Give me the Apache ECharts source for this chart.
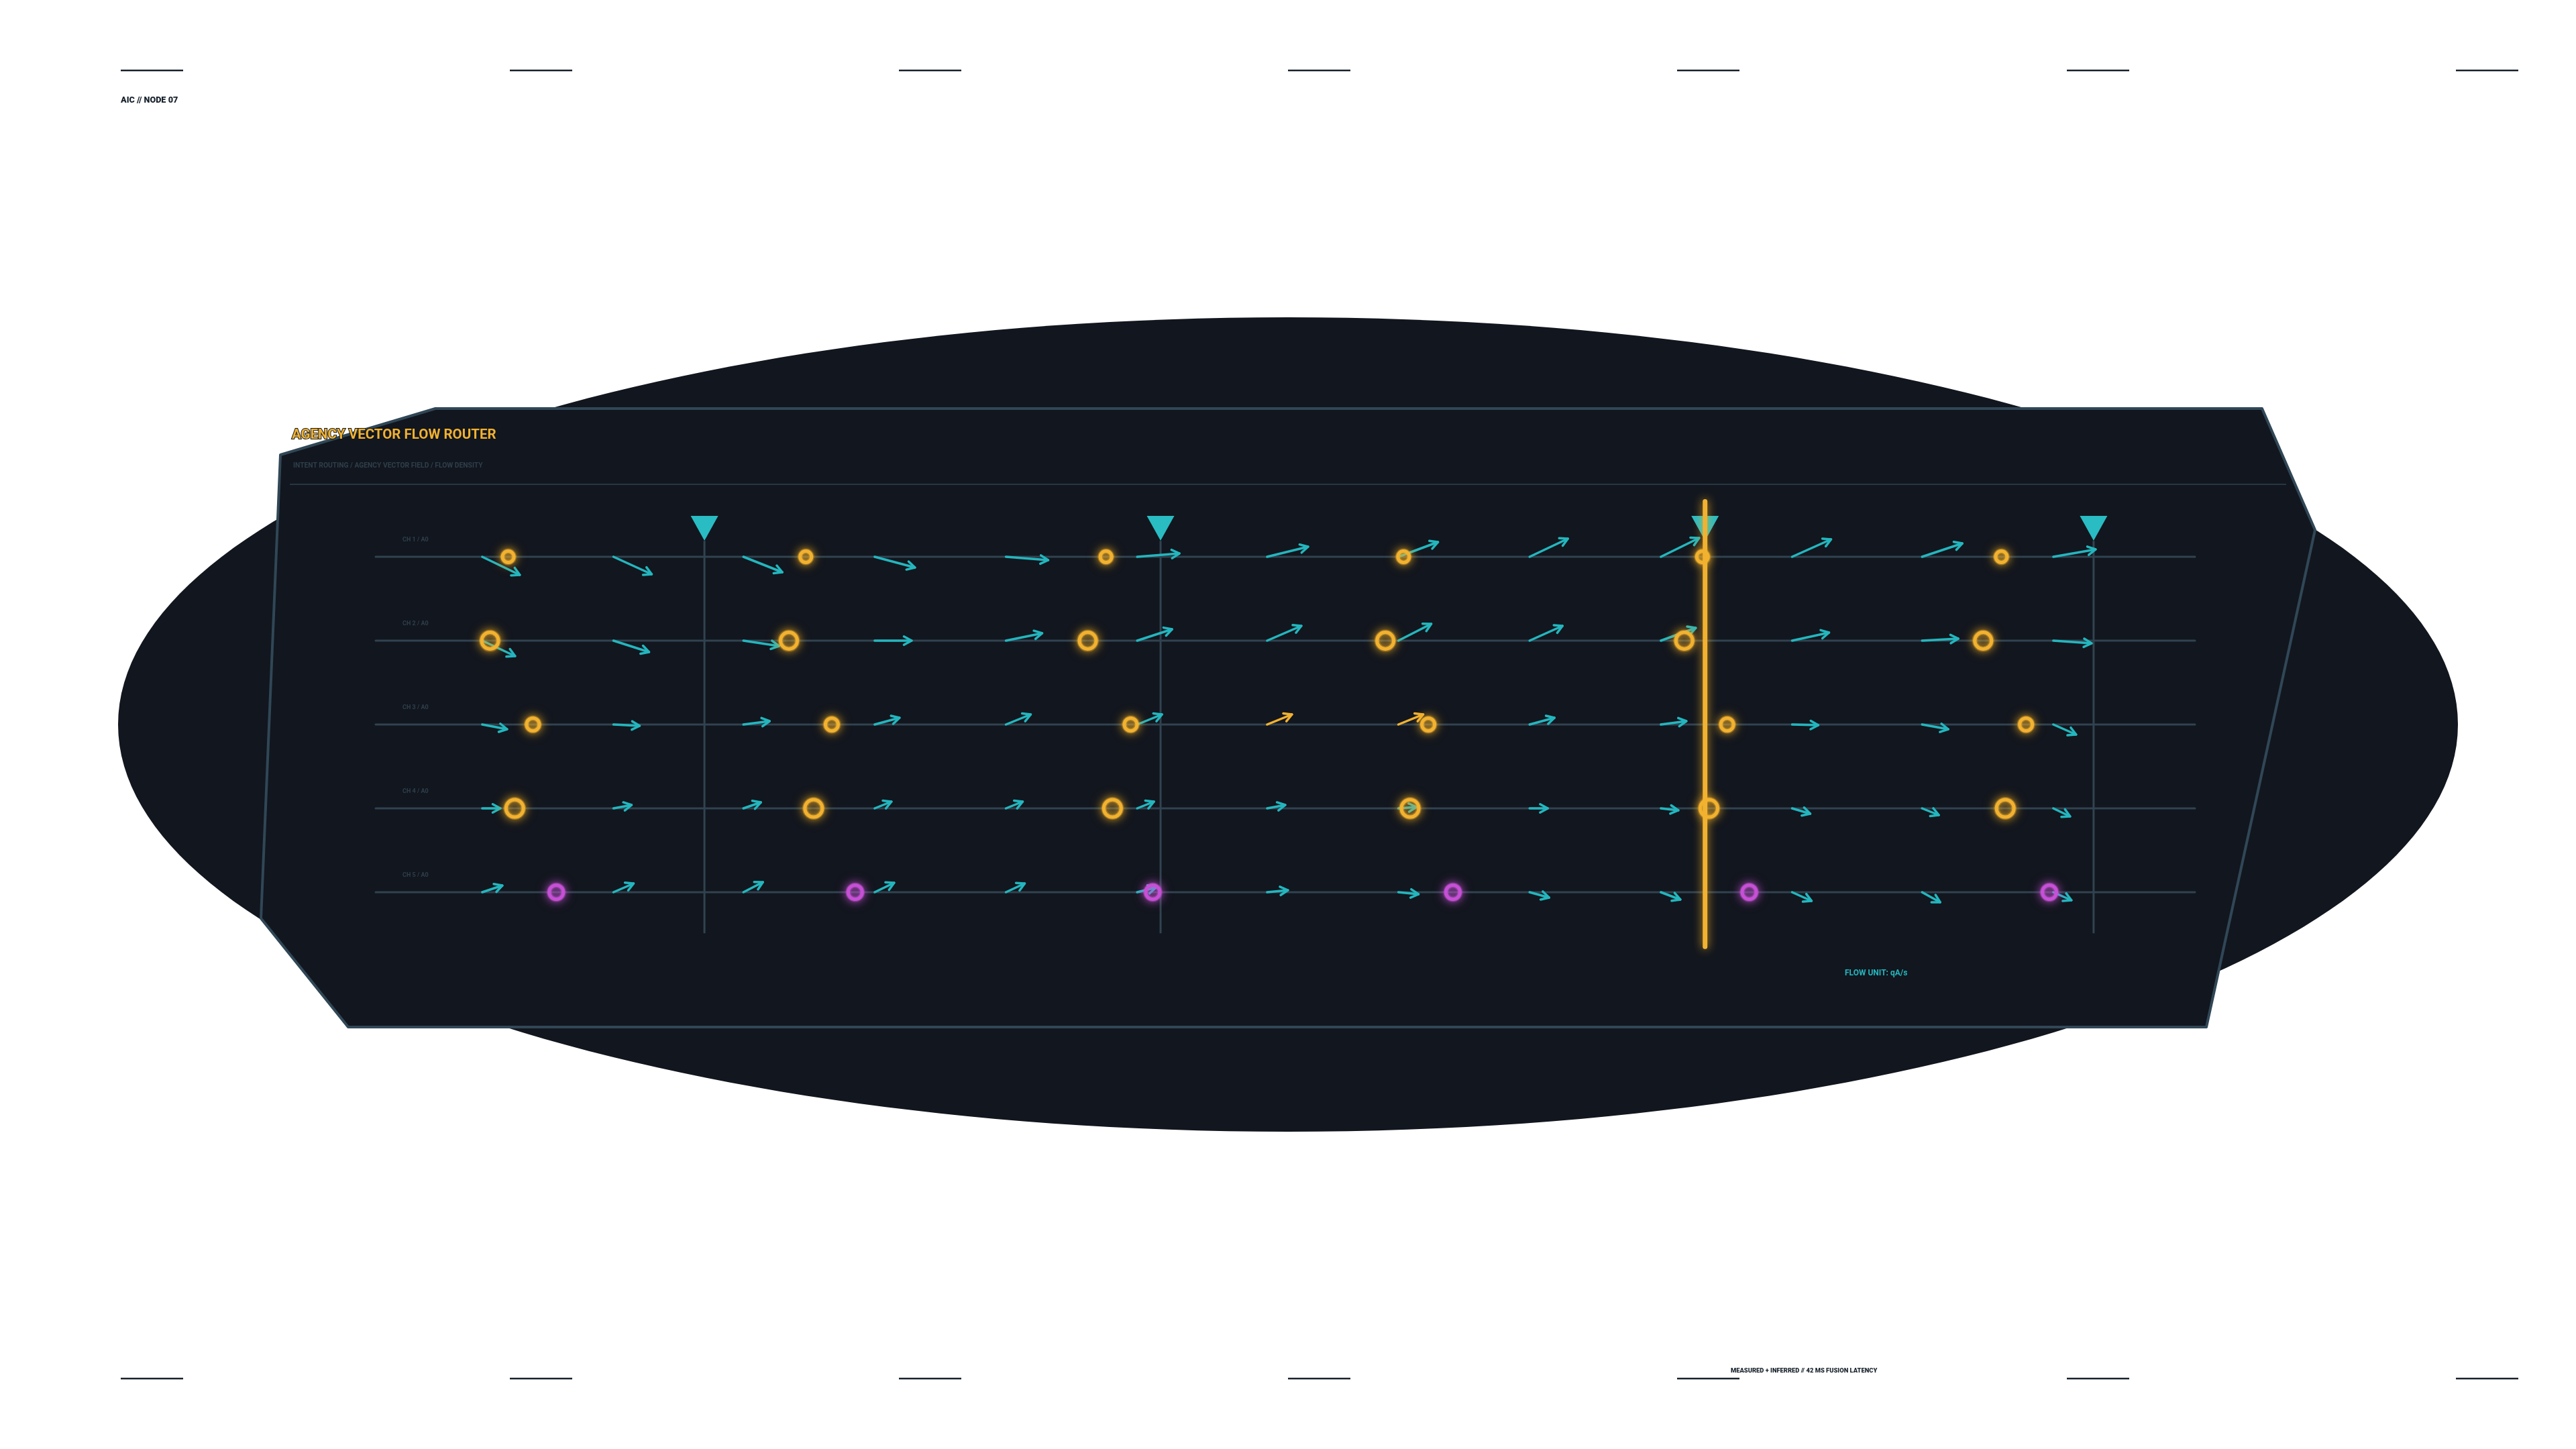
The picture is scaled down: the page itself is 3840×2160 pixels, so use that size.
<!DOCTYPE html>
<html><head><meta charset="utf-8">
<style>html,body{margin:0;padding:0;background:#ffffff}#c{width:3840px;height:2160px}</style>
<script src="https://cdn.jsdelivr.net/npm/echarts@6/dist/echarts.min.js"></script>
</head><body><div id="c"></div>
<script>
// ---------- DATA ----------
const channelLabels = ['CH 1 / A0', 'CH 2 / A0', 'CH 3 / A0', 'CH 4 / A0', 'CH 5 / A0'];
const channelRows = [1, 2, 3, 4, 5];
// sampling stations along the route (x position)
const stationX = [0.82, 1.83, 2.83, 3.84, 4.85, 5.86, 6.86, 7.87, 8.88, 9.89, 10.90, 11.90, 12.91];
// agency vector field, east component (qA/s), one list per channel
const flowU1 = [5.6, 5.7, 5.8, 6.0, 6.3, 6.3, 6.1, 5.9, 5.7, 5.7, 5.8, 6.0, 6.3];
const flowU2 = [4.9, 5.3, 5.3, 5.5, 5.4, 5.2, 5.1, 4.9, 4.9, 5.2, 5.5, 5.4, 5.7];
const flowU3 = [3.7, 3.9, 3.9, 3.7, 3.7, 3.7, 3.7, 3.7, 3.7, 3.8, 3.9, 3.9, 3.4];
const flowU4 = [2.7, 2.7, 2.6, 2.5, 2.5, 2.5, 2.7, 2.7, 2.7, 2.6, 2.7, 2.5, 2.5];
const flowU5 = [3.0, 3.0, 2.9, 2.9, 2.8, 2.8, 3.1, 3.0, 2.9, 2.9, 2.9, 2.7, 2.7];
// north component (qA/s)
const flowV1 = [-2.7, -2.6, -2.3, -1.6, -0.5, 0.5, 1.5, 2.2, 2.7, 2.8, 2.6, 2.0, 1.1];
const flowV2 = [-2.3, -1.7, -0.8, 0.0, 1.1, 1.7, 2.2, 2.5, 2.2, 1.9, 1.2, 0.3, -0.4];
const flowV3 = [-0.7, -0.2, 0.5, 1.0, 1.5, 1.5, 1.5, 1.5, 1.0, 0.5, -0.1, -0.7, -1.5];
const flowV4 = [0.0, 0.5, 0.9, 1.0, 1.0, 1.0, 0.5, 0.2, 0.0, -0.3, -0.8, -1.0, -1.2];
const flowV5 = [1.0, 1.3, 1.5, 1.4, 1.3, 0.7, 0.3, -0.3, -0.8, -1.1, -1.3, -1.5, -1.2];
// cells flagged as anomalous (channel index, station index)
const anomalyCells = [[2, 6], [2, 7]];
// router taps (vertical probes) and the focused router
const routerX = [2.53, 6.04, 10.23, 13.22];
const focusRouterX = 10.23;
// flow-density pulses along each channel
const pulseX1 = [1.02, 3.31, 5.62, 7.91, 10.21, 12.51];
const pulseX2 = [0.88, 3.18, 5.48, 7.77, 10.07, 12.37];
const pulseX3 = [1.21, 3.51, 5.81, 8.10, 10.40, 12.70];
const pulseX4 = [1.07, 3.37, 5.67, 7.96, 10.26, 12.54];
const pulseX5 = [1.39, 3.69, 5.98, 8.29, 10.57, 12.88];
const pulseDensity = [22, 30, 24, 31, 26];
const pulseKind = ['measured', 'measured', 'measured', 'measured', 'inferred'];

// ---------- STYLE / LAYOUT ----------
const BG = '#12161e', EDGE = '#304756', GRIDC = '#314350', DIM = '#2f3f4b';
const CYAN = '#24b6be', TRI = '#29bcc3', AMBER = '#f2b230', MAGENTA = '#c650d6', INK = '#18222c';
const X_MIN = 0, X_MAX = 14, Y_MIN = 0, Y_MAX = 6;
const GRID = { left: 560, top: 705, width: 2712, height: 750 };
const FLOW_PX = 10; // pixels per qA/s
const KX = FLOW_PX * (X_MAX - X_MIN) / GRID.width;
const KY = FLOW_PX * (Y_MAX - Y_MIN) / GRID.height;

const flowU = [flowU1, flowU2, flowU3, flowU4, flowU5];
const flowV = [flowV1, flowV2, flowV3, flowV4, flowV5];
const pulseX = [pulseX1, pulseX2, pulseX3, pulseX4, pulseX5];

const arrowData = [];
channelRows.forEach((r, ri) => {
  stationX.forEach((x, ci) => {
    const hot = anomalyCells.some(c => c[0] === ri && c[1] === ci) ? 1 : 0;
    arrowData.push([x, r, flowU[ri][ci], flowV[ri][ci], hot]);
  });
});
const measuredPulses = [], inferredPulses = [];
channelRows.forEach((r, ri) => {
  pulseX[ri].forEach(x => {
    (pulseKind[ri] === 'inferred' ? inferredPulses : measuredPulses).push([x, r, pulseDensity[ri]]);
  });
});

function arrowItem(params, api) {
  const x = api.value(0), y = api.value(1), u = api.value(2), v = api.value(3), hot = api.value(4);
  const p0 = api.coord([x, y]);
  const p1 = api.coord([x + u * KX, y - v * KY]);
  const a = Math.atan2(p1[1] - p0[1], p1[0] - p0[0]);
  const hl = 13, ha = 0.5;
  const w1 = [p1[0] - hl * Math.cos(a - ha), p1[1] - hl * Math.sin(a - ha)];
  const w2 = [p1[0] - hl * Math.cos(a + ha), p1[1] - hl * Math.sin(a + ha)];
  const style = { stroke: hot ? AMBER : CYAN, lineWidth: 3.5, lineCap: 'round', lineJoin: 'round', fill: null };
  return { type: 'group', children: [
    { type: 'polyline', shape: { points: [p0, p1] }, style },
    { type: 'polyline', shape: { points: [w1, p1, w2] }, style }
  ] };
}

function pulseItem(color, glow) {
  return (params, api) => {
    const c = api.coord([api.value(0), api.value(1)]);
    const d = api.value(2);
    return { type: 'group', children: [
      { type: 'circle', shape: { cx: c[0], cy: c[1], r: (d - 5) / 2 },
        style: { fill: null, stroke: glow, lineWidth: 8, opacity: 0.35, shadowBlur: 18, shadowColor: glow, blend: 'lighter' } },
      { type: 'circle', shape: { cx: c[0], cy: c[1], r: (d - 5) / 2 },
        style: { fill: null, stroke: color, lineWidth: 5, shadowBlur: 12, shadowColor: glow, blend: 'lighter' } }
    ] };
  };
}

const chart = echarts.init(document.getElementById('c'), null, { renderer: 'canvas' });

const graphics = [
  { type: 'ellipse', z: 0, shape: { cx: 1920, cy: 1080, rx: 1744, ry: 607 }, style: { fill: BG } },
  { type: 'polygon', z: 1, shape: { points: [[418, 678], [649, 609], [3372, 609], [3451, 790], [3289, 1531], [519, 1531], [389, 1369]] },
    style: { fill: BG, stroke: EDGE, lineWidth: 4, lineJoin: 'round' } },
  { type: 'line', z: 2, shape: { x1: 432, y1: 722, x2: 3408, y2: 722 }, style: { stroke: '#273641', lineWidth: 2 } },
  { type: 'text', z: 3, style: { x: 435, y: 649, text: 'AGENCY VECTOR FLOW ROUTER', fill: AMBER,
      font: 'bold 20.5px Roboto', textVerticalAlign: 'middle', stroke: BG, lineWidth: 2 } },
  { type: 'text', z: 3, style: { x: 437, y: 694, text: 'INTENT ROUTING / AGENCY VECTOR FIELD / FLOW DENSITY', fill: DIM,
      font: 'bold 10.3px Roboto', textVerticalAlign: 'middle' } },
  { type: 'text', z: 3, style: { x: 2750, y: 1451, text: 'FLOW UNIT: qA/s', fill: CYAN,
      font: 'bold 12px Roboto', textVerticalAlign: 'middle' } },
  { type: 'text', z: 3, style: { x: 180, y: 150, text: 'AIC // NODE 07', fill: INK,
      font: '900 12.7px Roboto', textVerticalAlign: 'middle' } },
  { type: 'text', z: 3, style: { x: 2580, y: 2044, text: 'MEASURED + INFERRED // 42 MS FUSION LATENCY', fill: INK,
      font: '900 9.4px Roboto', textVerticalAlign: 'middle' } }
];
[180, 760, 1340, 1920, 2500, 3081, 3661].forEach(x => {
  graphics.push({ type: 'line', z: 2, shape: { x1: x, y1: 105, x2: x + 93, y2: 105 }, style: { stroke: INK, lineWidth: 2.5 } });
  graphics.push({ type: 'line', z: 2, shape: { x1: x, y1: 2055, x2: x + 93, y2: 2055 }, style: { stroke: INK, lineWidth: 2.5 } });
});

const option = {
  backgroundColor: '#ffffff',
  animation: false,
  graphic: { elements: graphics },
  grid: { left: GRID.left, top: GRID.top, width: GRID.width, height: GRID.height, show: false },
  xAxis: { type: 'value', min: X_MIN, max: X_MAX, show: false },
  yAxis: { type: 'value', min: Y_MIN, max: Y_MAX, inverse: true, show: false },
  series: [
    { // channel lanes
      type: 'custom', z: 3, silent: true, clip: false,
      data: channelRows.map(r => [r]),
      encode: { y: 0 },
      renderItem: (p, api) => {
        const r = api.value(0);
        const a = api.coord([X_MIN, r]), b = api.coord([X_MAX, r]);
        return { type: 'line', shape: { x1: a[0], y1: a[1], x2: b[0], y2: b[1] }, style: { stroke: GRIDC, lineWidth: 3, lineCap: 'round' } };
      }
    },
    { // channel labels
      type: 'custom', z: 3, silent: true, clip: false,
      data: channelRows.map((r, i) => [r, i]),
      encode: { y: 0 },
      renderItem: (p, api) => {
        const r = api.value(0);
        const a = api.coord([X_MIN, r]);
        return { type: 'text', style: { x: a[0] + 40, y: a[1] - 25, text: channelLabels[api.value(1)], fill: DIM,
          font: 'bold 9px Roboto', textVerticalAlign: 'middle' } };
      }
    },
    { // router probes
      type: 'custom', z: 3, silent: true, clip: false,
      data: routerX.map(x => [x]),
      encode: { x: 0 },
      renderItem: (p, api) => {
        const x = api.value(0);
        const a = api.coord([x, 0.81]), b = api.coord([x, 5.49]);
        return { type: 'line', shape: { x1: a[0], y1: a[1], x2: b[0], y2: b[1] }, style: { stroke: GRIDC, lineWidth: 3 } };
      }
    },
    { // router heads
      type: 'scatter', z: 4, silent: true,
      data: routerX.map(x => [x, 0.66]),
      symbol: 'triangle', symbolRotate: 180, symbolSize: [41, 37],
      itemStyle: { color: TRI, opacity: 1 }
    },
    { // vector field
      type: 'custom', z: 5, silent: true, clip: false,
      data: arrowData,
      encode: { x: 0, y: 1 },
      renderItem: arrowItem
    },
    { // measured density pulses
      type: 'custom', z: 6, silent: true, clip: false,
      data: measuredPulses,
      encode: { x: 0, y: 1 },
      renderItem: pulseItem(AMBER, 'rgba(245,178,40,1)')
    },
    { // inferred density pulses
      type: 'custom', z: 6, silent: true, clip: false,
      data: inferredPulses,
      encode: { x: 0, y: 1 },
      renderItem: pulseItem(MAGENTA, 'rgba(205,85,220,1)')
    },
    { // focused router
      type: 'custom', z: 7, silent: true, clip: false,
      data: [[focusRouterX]],
      encode: { x: 0 },
      renderItem: (p, api) => {
        const x = api.value(0);
        const a = api.coord([x, 0.34]), b = api.coord([x, 5.65]);
        return { type: 'line', shape: { x1: a[0], y1: a[1], x2: b[0], y2: b[1] },
          style: { stroke: AMBER, lineWidth: 7, lineCap: 'round', shadowBlur: 14, shadowColor: 'rgba(245,178,40,0.9)', blend: 'lighter' } };
      }
    }
  ]
};
chart.setOption(option);
</script>
</body></html>
